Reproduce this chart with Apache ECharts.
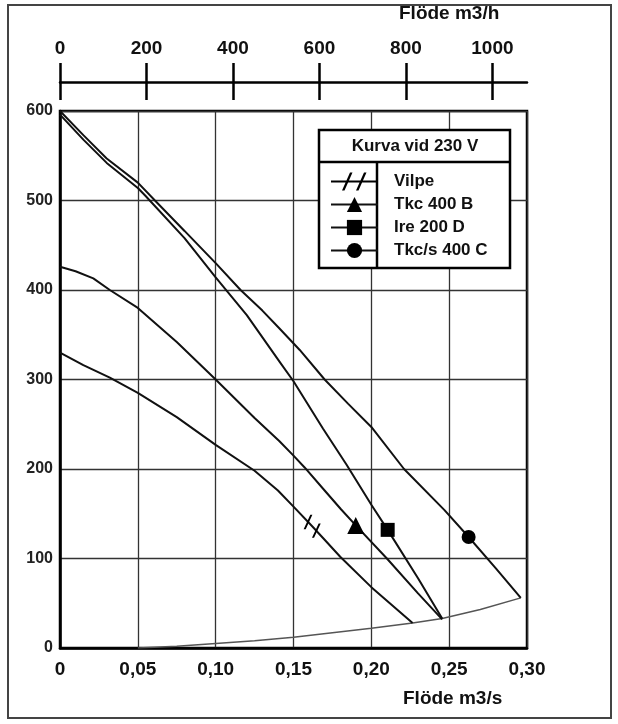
<!DOCTYPE html>
<html>
<head>
<meta charset="utf-8">
<title>Fläktkurvor</title>
<script src="https://cdn.jsdelivr.net/npm/echarts@6/dist/echarts.min.js"></script>
<style>
  html, body { margin: 0; padding: 0; background: #fff; }
  #chart { width: 618px; height: 724px; }
</style>
</head>
<body>
<div id="chart"></div>
<script>
// tick labels
const xTickLabels = ['0', '0,05', '0,10', '0,15', '0,20', '0,25', '0,30']
const yTickLabels = ['0', '100', '200', '300', '400', '500', '600']
const topTicks = [0, 200, 400, 600, 800, 1000]

// curves, [flöde m3/s, tryck]
const vilpe = [[0, 330], [0.015, 316], [0.032, 302], [0.05, 285], [0.075, 258], [0.10, 227], [0.125, 198], [0.14, 176], [0.15, 158], [0.17, 121], [0.18, 102], [0.20, 68], [0.2265, 28]]
const vilpeMarker = [0.162, 136]
const tkc400B = [[0, 426], [0.01, 421], [0.0214, 413], [0.032, 400], [0.05, 380], [0.075, 342], [0.10, 300], [0.125, 257], [0.141, 231], [0.15, 215], [0.157, 202], [0.17, 176], [0.1805, 155], [0.21, 100], [0.23, 61], [0.2455, 32]]
const tkc400BMarker = [0.19, 137]
const ire200D = [[0, 596], [0.015, 568], [0.03, 542], [0.05, 514], [0.055, 505], [0.08, 458], [0.10, 414], [0.12, 372], [0.141, 320], [0.15, 298], [0.169, 245], [0.184, 205], [0.20, 160], [0.23, 78], [0.2455, 33]]
const ire200DMarker = [0.2105, 132]
const tkcs400C = [[0, 600], [0.015, 573], [0.03, 547], [0.05, 520], [0.061, 500], [0.08, 466], [0.10, 430], [0.116, 400], [0.13, 377], [0.141, 357], [0.154, 333], [0.17, 300], [0.185, 273], [0.20, 247], [0.221, 200], [0.247, 154], [0.28, 89], [0.296, 56]]
const tkcs400CMarker = [0.2625, 124]
// anläggningskurva
const systemCurve = [[0.05, 0], [0.075, 2], [0.10, 5], [0.125, 8], [0.15, 12], [0.175, 17], [0.20, 22], [0.2265, 28], [0.2455, 33], [0.27, 43], [0.296, 56]]

const font = '"Liberation Sans", Arial, sans-serif'
const slashPath = 'path://M1,15 L9,0 L11.5,0 L3.5,15 Z M11,24 L19,9 L21.5,9 L13.5,24 Z'
const slashIcon = 'path://M0,9 L47,9 L47,11 L0,11 Z M11,19 L19,1 L21.5,1 L13.5,19 Z M25,19 L33,1 L35.5,1 L27.5,19 Z'

function withMarker (points, marker) {
  const d = points.map(p => ({ value: p, symbol: 'none' }))
  d.push({ value: marker })
  d.sort((a, b) => a.value[0] - b.value[0])
  return d
}

function curve (name, points, marker, symbol, size) {
  return {
    name: name,
    type: 'line',
    xAxisIndex: 0,
    yAxisIndex: 0,
    symbol: symbol,
    symbolSize: size,
    showSymbol: true,
    showAllSymbol: true,
    symbolKeepAspect: true,
    lineStyle: { color: '#111', width: 2 },
    itemStyle: { color: '#000' },
    z: 3,
    data: withMarker(points, marker)
  }
}

const chart = echarts.init(document.getElementById('chart'))
chart.setOption({
  animation: false,
  backgroundColor: '#fff',
  textStyle: { fontFamily: font },
  title: [
    { text: 'Flöde m3/h', left: 399, top: 4, padding: 0, textStyle: { fontSize: 19, fontWeight: 'bold', color: '#111', fontFamily: font } },
    { text: 'Flöde m3/s', left: 403, top: 689, padding: 0, textStyle: { fontSize: 19, fontWeight: 'bold', color: '#111', fontFamily: font } }
  ],
  grid: [
    {
      left: 60,
      right: 91,
      top: 111,
      bottom: 76,
      show: true,
      borderColor: '#000',
      borderWidth: 2.5
    },
    // thin strip that carries the m3/h scale
    { left: 60, right: 91, top: 82, height: 1, show: false }
  ],
  legend: {
    orient: 'vertical',
    left: 325,
    top: 165,
    itemWidth: 47,
    itemHeight: 19,
    itemGap: 0,
    selectedMode: false,
    z: 6,
    textStyle: { fontSize: 17, fontWeight: 'bold', color: '#111', fontFamily: font, lineHeight: 23, padding: [0, 0, 0, 11] },
    data: [
      { name: 'Vilpe', icon: slashIcon, itemStyle: { color: '#000' } },
      'Tkc 400 B',
      'Ire 200 D',
      'Tkc/s 400 C'
    ]
  },
  graphic: [
    { type: 'rect', silent: true, z: 0, shape: { x: 8, y: 5, width: 603, height: 713 }, style: { fill: 'none', stroke: '#444', lineWidth: 2 } },
    { type: 'rect', silent: true, z: 5, shape: { x: 319, y: 130, width: 191, height: 138 }, style: { fill: '#fff', stroke: '#000', lineWidth: 2.5 } },
    { type: 'line', silent: true, z: 5, shape: { x1: 319, y1: 162, x2: 510, y2: 162 }, style: { stroke: '#000', lineWidth: 2.5 } },
    { type: 'line', silent: true, z: 5, shape: { x1: 377, y1: 162, x2: 377, y2: 268 }, style: { stroke: '#000', lineWidth: 2.5 } },
    { type: 'text', silent: true, z: 6, style: { text: 'Kurva vid 230 V', x: 415, y: 146, align: 'center', verticalAlign: 'middle', font: 'bold 17px "Liberation Sans", Arial, sans-serif', fill: '#111' } }
  ],
  xAxis: [
    {
      type: 'value',
      gridIndex: 0,
      position: 'bottom',
      min: 0,
      max: 0.30,
      interval: 0.05,
      axisLine: { show: true, onZero: false, lineStyle: { color: '#000', width: 2.5 } },
      axisTick: { show: false },
      axisLabel: {
        margin: 12,
        fontSize: 19,
        fontWeight: 'bold',
        color: '#111',
        formatter: v => xTickLabels[Math.round(v / 0.05)]
      },
      splitLine: { show: true, lineStyle: { color: '#333', width: 1.3 } }
    },
    {
      type: 'value',
      gridIndex: 1,
      position: 'top',
      min: 0,
      max: 1080,
      axisLine: { show: true, onZero: false, lineStyle: { color: '#000', width: 2.5 } },
      axisTick: { show: true, length: 19, customValues: topTicks, lineStyle: { color: '#000', width: 2.5 } },
      axisLabel: { margin: 24, fontSize: 19, fontWeight: 'bold', color: '#111', customValues: topTicks, formatter: v => String(v) },
      splitLine: { show: false }
    },
    {
      type: 'value',
      gridIndex: 1,
      position: 'bottom',
      min: 0,
      max: 1080,
      axisLine: { show: false, onZero: false },
      axisTick: { show: true, length: 17, customValues: topTicks, lineStyle: { color: '#000', width: 2.5 } },
      axisLabel: { show: false },
      splitLine: { show: false }
    }
  ],
  yAxis: [
    {
      type: 'value',
      gridIndex: 0,
      min: 0,
      max: 600,
      interval: 100,
      axisLine: { show: true, onZero: false, lineStyle: { color: '#000', width: 2.5 } },
      axisTick: { show: false },
      axisLabel: {
        margin: 7,
        fontSize: 16,
        fontWeight: 'bold',
        color: '#222',
        formatter: v => yTickLabels[Math.round(v / 100)]
      },
      splitLine: { show: true, lineStyle: { color: '#333', width: 1.3 } }
    },
    { type: 'value', gridIndex: 1, show: false, min: 0, max: 1 }
  ],
  series: [
    curve('Vilpe', vilpe, vilpeMarker, slashPath, [20, 23]),
    curve('Tkc 400 B', tkc400B, tkc400BMarker, 'triangle', 17),
    curve('Ire 200 D', ire200D, ire200DMarker, 'rect', 14),
    curve('Tkc/s 400 C', tkcs400C, tkcs400CMarker, 'circle', 14),
    {
      name: 'system',
      type: 'line',
      symbol: 'none',
      lineStyle: { color: '#555', width: 1.5 },
      z: 2,
      data: systemCurve
    }
  ]
})
</script>
</body>
</html>
